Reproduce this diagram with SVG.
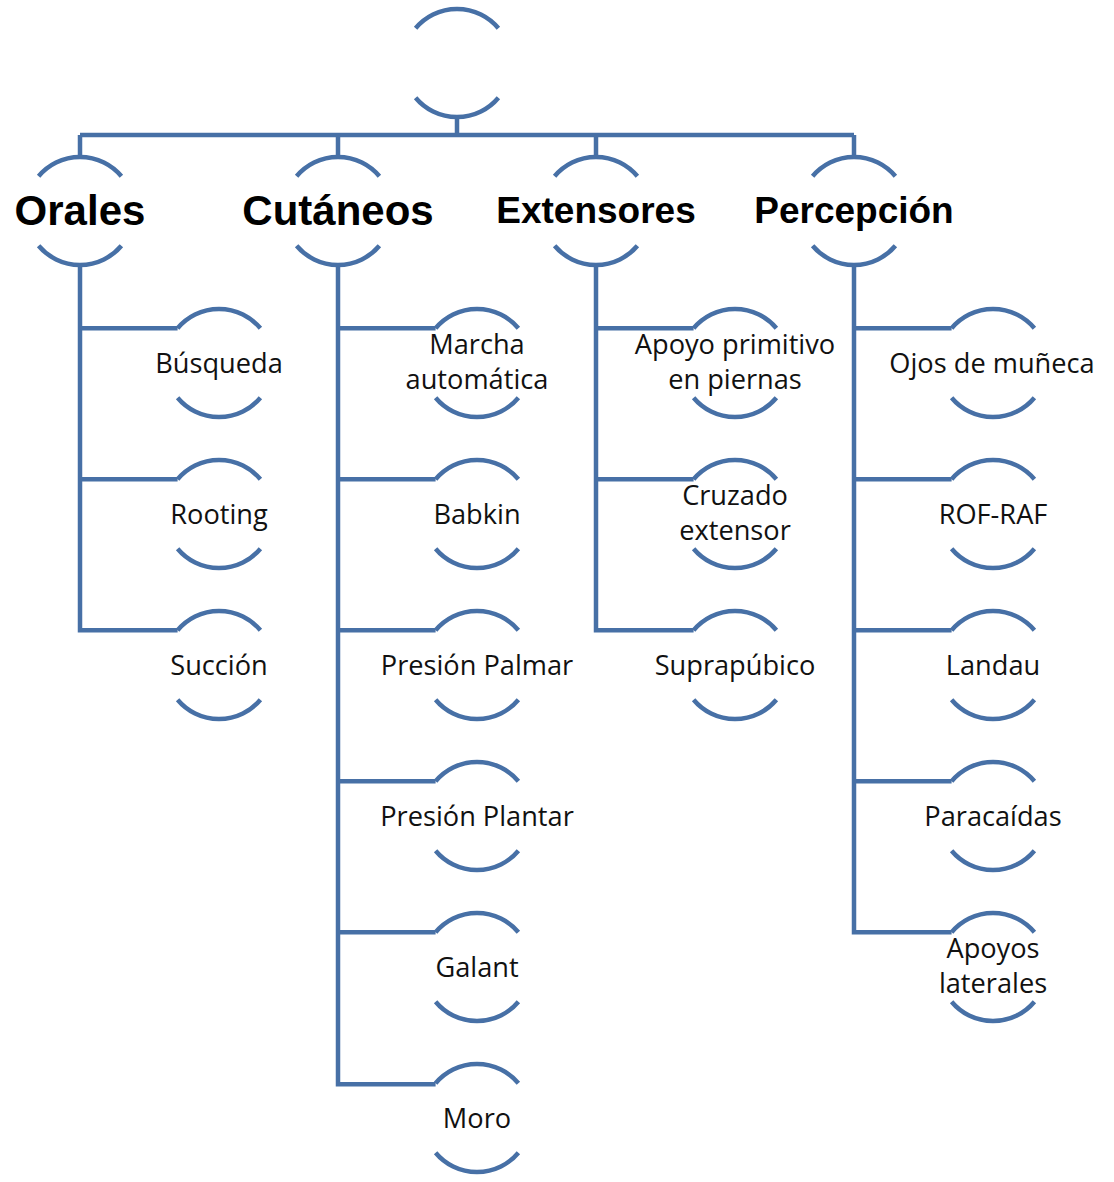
<svg xmlns="http://www.w3.org/2000/svg" width="1114" height="1182" viewBox="0 0 1114 1182">
<style>
.ln{fill:none;stroke:#4770A6;stroke-width:4.5;stroke-linejoin:miter}
.arc{fill:none;stroke:#4770A6;stroke-width:4.5}
.h1{font-family:"Liberation Sans",Arial,sans-serif;font-weight:bold;font-size:42px;fill:#000;text-anchor:middle}
.h1s{font-size:37px}
.t{font-family:"Open Sans","Noto Sans",sans-serif;font-size:27.2px;fill:#111;text-anchor:middle}
</style>
<defs>
<g id="ring">
<path class="arc" d="M -41.4 -34.7 A 54 54 0 0 1 41.4 -34.7"/>
<path class="arc" d="M -41.4 34.7 A 54 54 0 0 0 41.4 34.7"/>
</g>
</defs>
<rect width="1114" height="1182" fill="#fff"/>
<g id="connectors">
<path class="ln" d="M457 117 V135 M80 135 H854 M80 135 V157 M338 135 V157 M596 135 V157 M854 135 V157"/>
<path class="ln" d="M80 265 V630.3 H177.6 M80 328.3 H177.6 M80 479.3 H177.6"/>
<path class="ln" d="M338 265 V1084.3 H435.6 M338 328.3 H435.6 M338 479.3 H435.6 M338 630.3 H435.6 M338 781.3 H435.6 M338 932.3 H435.6"/>
<path class="ln" d="M596 265 V630.3 H693.6 M596 328.3 H693.6 M596 479.3 H693.6"/>
<path class="ln" d="M854 265 V932.3 H951.6 M854 328.3 H951.6 M854 479.3 H951.6 M854 630.3 H951.6 M854 781.3 H951.6"/>
</g>
<g id="root"><use href="#ring" x="457" y="63"/></g>
<g id="orales"><use href="#ring" x="80" y="211"/><text class="h1" x="80" y="224.5">Orales</text></g>
<g id="cutaneos"><use href="#ring" x="338" y="211"/><text class="h1" x="338" y="224.5">Cutáneos</text></g>
<g id="extensores"><use href="#ring" x="596" y="211"/><text class="h1 h1s" x="596" y="223">Extensores</text></g>
<g id="percepcion"><use href="#ring" x="854" y="211"/><text class="h1 h1s" x="854" y="223">Percepción</text></g>

<g id="busqueda"><use href="#ring" x="219" y="363"/><text class="t" x="219" y="373">Búsqueda</text></g>
<g id="rooting"><use href="#ring" x="219" y="514"/><text class="t" x="219" y="524">Rooting</text></g>
<g id="succion"><use href="#ring" x="219" y="665"/><text class="t" x="219" y="675">Succión</text></g>

<g id="marcha"><use href="#ring" x="477" y="363"/><text class="t" x="477" y="353.5">Marcha</text><text class="t" x="477" y="388.5">automática</text></g>
<g id="babkin"><use href="#ring" x="477" y="514"/><text class="t" x="477" y="524">Babkin</text></g>
<g id="palmar"><use href="#ring" x="477" y="665"/><text class="t" x="477" y="675">Presión Palmar</text></g>
<g id="plantar"><use href="#ring" x="477" y="816"/><text class="t" x="477" y="826">Presión Plantar</text></g>
<g id="galant"><use href="#ring" x="477" y="967"/><text class="t" x="477" y="977">Galant</text></g>
<g id="moro"><use href="#ring" x="477" y="1118"/><text class="t" x="477" y="1128">Moro</text></g>

<g id="apoyo"><use href="#ring" x="735" y="363"/><text class="t" x="735" y="353.5">Apoyo primitivo</text><text class="t" x="735" y="388.5">en piernas</text></g>
<g id="cruzado"><use href="#ring" x="735" y="514"/><text class="t" x="735" y="504.5">Cruzado</text><text class="t" x="735" y="539.5">extensor</text></g>
<g id="suprapubico"><use href="#ring" x="735" y="665"/><text class="t" x="735" y="675">Suprapúbico</text></g>

<g id="ojos"><use href="#ring" x="993" y="363"/><text class="t" x="992" y="373">Ojos de muñeca</text></g>
<g id="rofraf"><use href="#ring" x="993" y="514"/><text class="t" x="993" y="524">ROF-RAF</text></g>
<g id="landau"><use href="#ring" x="993" y="665"/><text class="t" x="993" y="675">Landau</text></g>
<g id="paracaidas"><use href="#ring" x="993" y="816"/><text class="t" x="993" y="826">Paracaídas</text></g>
<g id="apoyoslat"><use href="#ring" x="993" y="967"/><text class="t" x="993" y="957.5">Apoyos</text><text class="t" x="993" y="992.5">laterales</text></g>
</svg>
